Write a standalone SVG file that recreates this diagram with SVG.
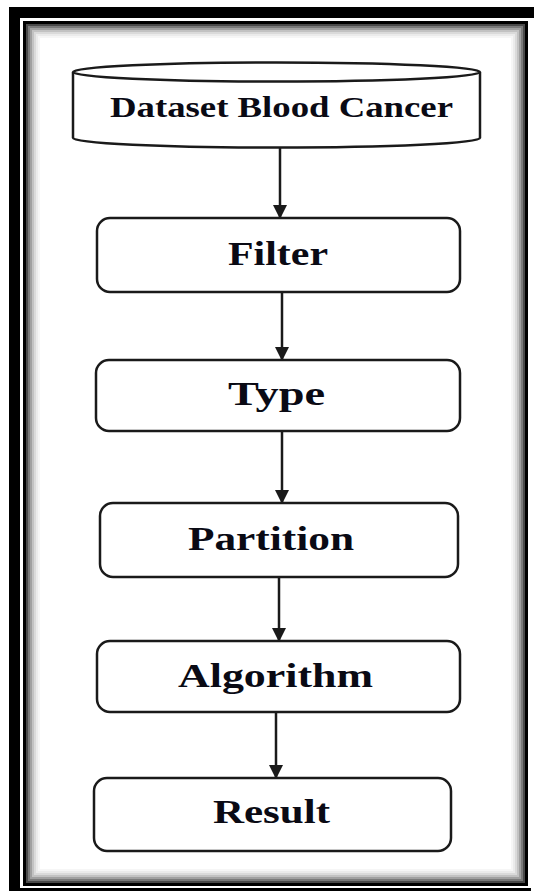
<svg xmlns="http://www.w3.org/2000/svg" width="534" height="894" viewBox="0 0 534 894">
  <style>
    .box { fill: #ffffff; stroke: #1a1a1a; stroke-width: 2.5; }
    .lbl { font-family: "Liberation Serif", "Times New Roman", serif; font-weight: bold; fill: #0a0a14; }
    .conn { stroke: #1a1a1a; stroke-width: 2.5; fill: none; marker-end: url(#arrow); }
    .sh { fill: none; }
  </style>
  <defs>
    <marker id="arrow" markerUnits="userSpaceOnUse" markerWidth="14" markerHeight="14" refX="13" refY="7" orient="auto">
      <path d="M0,0 L14,7 L0,14 Z" fill="#1a1a1a"/>
    </marker>
  </defs>

  <rect width="534" height="894" fill="#ffffff"/>

  <g id="frame">
    <rect x="9" y="7" width="525" height="11" fill="#000000"/>
    <rect x="9" y="7" width="11" height="884" fill="#000000"/>
    <rect x="9" y="888" width="522" height="3" fill="#000000"/>
    <rect x="24.5" y="22.5" width="502" height="862" fill="#ffffff" stroke="#000000" stroke-width="3"/>
    <rect class="sh" x="27" y="25" width="497" height="857" stroke="#4a4a4a" stroke-width="2"/>
    <rect class="sh" x="29" y="27" width="493" height="853" stroke="#7a7a7a" stroke-width="2"/>
    <rect class="sh" x="31" y="29" width="489" height="849" stroke="#a0a0a0" stroke-width="2"/>
    <rect class="sh" x="33" y="31" width="485" height="845" stroke="#c2c2c2" stroke-width="2"/>
    <rect class="sh" x="35" y="33" width="481" height="841" stroke="#dadada" stroke-width="2"/>
    <rect class="sh" x="37" y="35" width="477" height="837" stroke="#ebebeb" stroke-width="2"/>
    <rect class="sh" x="39" y="37" width="473" height="833" stroke="#f6f6f6" stroke-width="2"/>
  </g>

  <g id="connectors">
    <line class="conn" x1="280" y1="147" x2="280" y2="218"/>
    <line class="conn" x1="282" y1="292" x2="282" y2="360"/>
    <line class="conn" x1="282" y1="431" x2="282" y2="503"/>
    <line class="conn" x1="279" y1="577" x2="279" y2="641"/>
    <line class="conn" x1="276" y1="712" x2="276" y2="778"/>
  </g>

  <g id="dataset">
    <path class="box" d="M73,72 L73,138 A203.5,9.5 0 0 0 480,138 L480,72"/>
    <ellipse class="box" cx="276.5" cy="72" rx="203.5" ry="9.5"/>
    <text class="lbl" x="110" y="117" font-size="30" textLength="343" lengthAdjust="spacingAndGlyphs">Dataset Blood Cancer</text>
  </g>

  <g id="filter">
    <rect class="box" x="97" y="218" width="363" height="74" rx="13"/>
    <text class="lbl" x="228" y="265" font-size="33" textLength="100" lengthAdjust="spacingAndGlyphs">Filter</text>
  </g>

  <g id="type">
    <rect class="box" x="96" y="360" width="364" height="71" rx="13"/>
    <text class="lbl" x="228" y="405" font-size="33" textLength="97" lengthAdjust="spacingAndGlyphs">Type</text>
  </g>

  <g id="partition">
    <rect class="box" x="100" y="503" width="358" height="74" rx="13"/>
    <text class="lbl" x="188" y="550" font-size="33" textLength="166" lengthAdjust="spacingAndGlyphs">Partition</text>
  </g>

  <g id="algorithm">
    <rect class="box" x="97" y="641" width="363" height="71" rx="13"/>
    <text class="lbl" x="178" y="687" font-size="33" textLength="195" lengthAdjust="spacingAndGlyphs">Algorithm</text>
  </g>

  <g id="result">
    <rect class="box" x="94" y="778" width="357" height="73" rx="13"/>
    <text class="lbl" x="213" y="823" font-size="33" textLength="117" lengthAdjust="spacingAndGlyphs">Result</text>
  </g>
</svg>
